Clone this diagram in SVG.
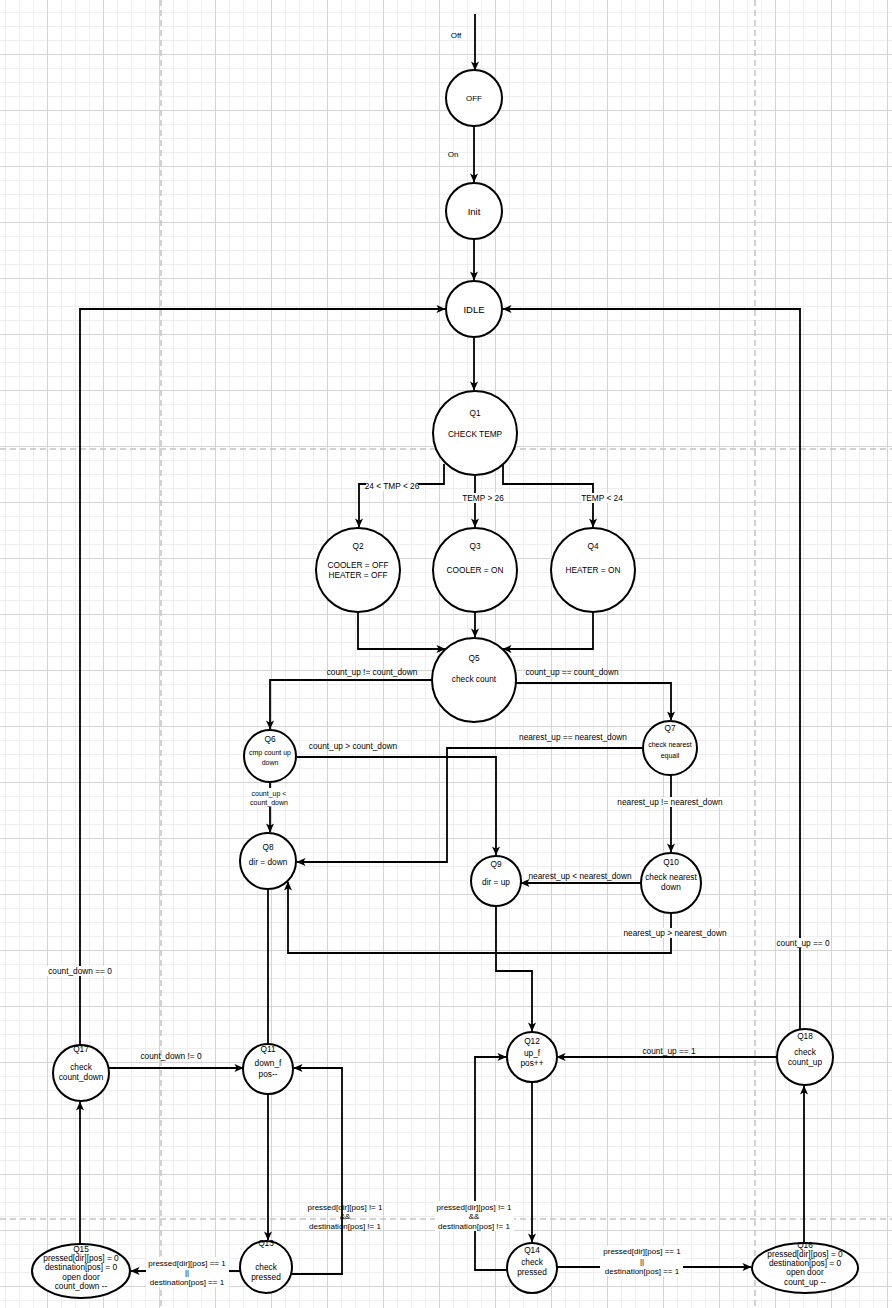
<svg xmlns="http://www.w3.org/2000/svg" width="892" height="1308" viewBox="0 0 892 1308">
<style>
text{font-family:"Liberation Sans",Arial,sans-serif;font-size:8.3px;fill:#000;text-anchor:middle;dominant-baseline:central}
.n{fill:#fff;stroke:#000;stroke-width:2}
.e{fill:none;stroke:#000;stroke-width:1.8}
.a{marker-end:url(#arr)}
.bg{fill:#fff}
.s7{font-size:7px}
.s8{font-size:8px}
.big{font-size:9.5px}
.pb{stroke:#c4c4c4;stroke-width:1.5;stroke-dasharray:6 4}
</style>
<defs>
<pattern id="minor" width="14" height="14" patternUnits="userSpaceOnUse" x="5" y="12"><path d="M0.5 0V14M0 0.5H14" fill="none" stroke="#eeeeee" stroke-width="1"/></pattern>
<pattern id="major" width="56" height="56" patternUnits="userSpaceOnUse" x="47" y="54"><path d="M0.5 0V56M0 0.5H56" fill="none" stroke="#d4d4d4" stroke-width="1"/></pattern>
<marker id="arr" viewBox="0 0 10 10" refX="9.5" refY="5" markerWidth="9" markerHeight="9" orient="auto" markerUnits="userSpaceOnUse"><path d="M0,0.5 L10,5 L0,9.5 L2.5,5 Z" fill="#000"/></marker>
</defs>
<rect width="892" height="1308" fill="#fff"/>
<rect width="892" height="1308" fill="url(#minor)"/>
<rect width="892" height="1308" fill="url(#major)"/>
<g id="page-breaks">
<line class="pb" x1="161" y1="0" x2="161" y2="1308"/>
<line class="pb" x1="755" y1="0" x2="755" y2="1308"/>
<line class="pb" x1="0" y1="449" x2="892" y2="449"/>
<line class="pb" x1="0" y1="1219" x2="892" y2="1219"/>
</g>
<g id="connectors">
<path class="e a" d="M475 14V70"/>
<text x="456" y="35" class="s8">Off</text>
<path class="e a" d="M474 126V182"/>
<text x="453" y="154" class="s8">On</text>
<path class="e a" d="M474 239V280"/>
<path class="e a" d="M474 337V390"/>
<path class="e a" d="M444 464V484H359V527"/>
<rect class="bg" x="366" y="481" width="52" height="10"/>
<text x="392" y="486">24 &lt; TMP &lt; 26</text>
<path class="e a" d="M475 476V527"/>
<rect class="bg" x="463" y="493" width="40" height="10"/>
<text x="483" y="498">TEMP &gt; 26</text>
<path class="e a" d="M503 464V484H593V527"/>
<rect class="bg" x="582" y="493" width="41" height="10"/>
<text x="602" y="498">TEMP &lt; 24</text>
<path class="e a" d="M358 612V649H445"/>
<path class="e a" d="M475 612V637"/>
<path class="e a" d="M593 612V649H503"/>
<path class="e a" d="M432 680H270V729"/>
<text x="372" y="672">count_up != count_down</text>
<path class="e a" d="M516 683H671V720"/>
<text x="572" y="672">count_up == count_down</text>
<path class="e a" d="M297 757H496V855"/>
<text x="353" y="746">count_up &gt; count_down</text>
<path class="e a" d="M643 748H447V862H297"/>
<text x="573" y="737">nearest_up == nearest_down</text>
<path class="e a" d="M270 782V832"/>
<rect class="bg" x="250" y="788" width="39" height="19"/>
<text x="269" y="793" class="s7">count_up &lt;</text>
<text x="269" y="802" class="s7">count_down</text>
<path class="e a" d="M671 775V852"/>
<rect class="bg" x="616" y="797" width="110" height="10"/>
<text x="670" y="802">nearest_up != nearest_down</text>
<path class="e a" d="M641 883H521"/>
<text x="580" y="876">nearest_up &lt; nearest_down</text>
<path class="e a" d="M671 913V953H288V882"/>
<rect class="bg" x="622" y="928" width="106" height="10"/>
<text x="675" y="933">nearest_up &gt; nearest_down</text>
<path class="e" d="M268 890V1044"/>
<path class="e a" d="M496 907V971H532V1031"/>
<path class="e a" d="M268 1094V1240"/>
<text x="345" y="1207" class="s8">pressed[dir][pos] != 1</text>
<text x="345" y="1216" class="s8">&amp;&amp;</text>
<text x="345" y="1226" class="s8">destination[pos] != 1</text>
<path class="e a" d="M292 1274H342V1068H294"/>
<path class="e a" d="M240 1271H131"/>
<rect class="bg" x="146" y="1257" width="83" height="30"/>
<text x="187" y="1263" class="s8">pressed[dir][pos] == 1</text>
<text x="187" y="1272" class="s8">||</text>
<text x="187" y="1282" class="s8">destination[pos] == 1</text>
<path class="e a" d="M80 1244V1102"/>
<path class="e a" d="M109 1068H243"/>
<text x="171" y="1056">count_down != 0</text>
<path class="e a" d="M80 1045V309H445"/>
<rect class="bg" x="47" y="966" width="66" height="10"/>
<text x="80" y="971">count_down == 0</text>
<path class="e a" d="M532 1082V1242"/>
<path class="e a" d="M507 1270H475V1057H506"/>
<rect class="bg" x="435" y="1201" width="79" height="30"/>
<text x="474" y="1207" class="s8">pressed[dir][pos] != 1</text>
<text x="474" y="1216" class="s8">&amp;&amp;</text>
<text x="474" y="1226" class="s8">destination[pos] != 1</text>
<path class="e a" d="M557 1267H751"/>
<rect class="bg" x="600" y="1246" width="83" height="30"/>
<text x="642" y="1251" class="s8">pressed[dir][pos] == 1</text>
<text x="642" y="1261" class="s8">||</text>
<text x="642" y="1271" class="s8">destination[pos] == 1</text>
<path class="e a" d="M804 1243V1086"/>
<path class="e a" d="M777 1057H557"/>
<text x="669" y="1051">count_up == 1</text>
<path class="e a" d="M800 1030V309H503"/>
<rect class="bg" x="776" y="938" width="55" height="10"/>
<text x="803" y="943">count_up == 0</text>
</g>
<g id="OFF"><circle class="n" cx="474" cy="98" r="28"/><text x="474" y="98" class="s8">OFF</text></g>
<g id="Init"><circle class="n" cx="474" cy="211" r="28"/><text x="474" y="211" class="big">Init</text></g>
<g id="IDLE"><circle class="n" cx="474" cy="309" r="28"/><text x="474" y="309" class="big">IDLE</text></g>
<g id="Q1"><circle class="n" cx="475" cy="433" r="42"/><text x="475" y="413">Q1</text><text x="475" y="434">CHECK TEMP</text></g>
<g id="Q2"><circle class="n" cx="358" cy="570" r="42"/><text x="358" y="546">Q2</text><text x="358" y="565">COOLER = OFF</text><text x="358" y="575">HEATER = OFF</text></g>
<g id="Q3"><circle class="n" cx="475" cy="570" r="42"/><text x="475" y="546">Q3</text><text x="475" y="570">COOLER = ON</text></g>
<g id="Q4"><circle class="n" cx="593" cy="570" r="42"/><text x="593" y="546">Q4</text><text x="593" y="570">HEATER = ON</text></g>
<g id="Q5"><circle class="n" cx="474" cy="680" r="42"/><text x="474" y="658">Q5</text><text x="474" y="679">check count</text></g>
<g id="Q6"><circle class="n" cx="270" cy="756" r="26"/><text x="270" y="739">Q6</text><text x="270" y="752" class="s7">cmp count up</text><text x="270" y="762" class="s7">down</text></g>
<g id="Q7"><circle class="n" cx="670" cy="748" r="27"/><text x="670" y="728">Q7</text><text x="670" y="744" class="s7">check nearest</text><text x="670" y="755" class="s7">equall</text></g>
<g id="Q8"><circle class="n" cx="268" cy="861" r="28"/><text x="268" y="847">Q8</text><text x="268" y="862">dir = down</text></g>
<g id="Q9"><circle class="n" cx="496" cy="881" r="25"/><text x="496" y="864">Q9</text><text x="496" y="882">dir = up</text></g>
<g id="Q10"><circle class="n" cx="671" cy="883" r="30"/><text x="671" y="862">Q10</text><text x="671" y="877">check nearest</text><text x="671" y="887">down</text></g>
<g id="Q11"><circle class="n" cx="268" cy="1069" r="25"/><text x="268" y="1049">Q11</text><text x="268" y="1063">down_f</text><text x="268" y="1074">pos--</text></g>
<g id="Q12"><circle class="n" cx="532" cy="1057" r="25"/><text x="532" y="1041">Q12</text><text x="532" y="1053">up_f</text><text x="532" y="1063">pos++</text></g>
<g id="Q13"><circle class="n" cx="266" cy="1267" r="26"/><text x="266" y="1243">Q13</text><text x="266" y="1267">check</text><text x="266" y="1277">pressed</text></g>
<g id="Q14"><circle class="n" cx="532" cy="1268" r="25"/><text x="532" y="1250">Q14</text><text x="532" y="1262">check</text><text x="532" y="1272">pressed</text></g>
<g id="Q15"><ellipse class="n" cx="81" cy="1271" rx="49" ry="27"/><text x="81" y="1249">Q15</text><text x="81" y="1258">pressed[dir][pos] = 0</text><text x="81" y="1267">destination[pos] = 0</text><text x="81" y="1277">open door</text><text x="81" y="1286">count_down --</text></g>
<g id="Q16"><ellipse class="n" cx="805" cy="1268" rx="53" ry="25"/><text x="805" y="1245">Q16</text><text x="805" y="1254">pressed[dir][pos] = 0</text><text x="805" y="1263">destination[pos] = 0</text><text x="805" y="1272">open door</text><text x="805" y="1282">count_up --</text></g>
<g id="Q17"><circle class="n" cx="81" cy="1073" r="28"/><text x="81" y="1049">Q17</text><text x="81" y="1067">check</text><text x="81" y="1077">count_down</text></g>
<g id="Q18"><circle class="n" cx="805" cy="1057" r="28"/><text x="805" y="1036">Q18</text><text x="805" y="1052">check</text><text x="805" y="1062">count_up</text></g>
</svg>
